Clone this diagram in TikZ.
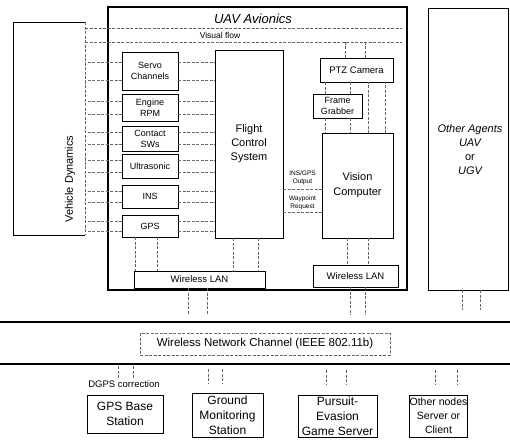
\documentclass[tikz,border=0pt]{standalone}
\usepackage{fontspec}
\setmainfont{Liberation Sans}
\usetikzlibrary{calc}
\tikzset{
  fs/.style 2 args={font=\fontsize{#1}{#2}\selectfont},
  box/.style={draw=black, line width=0.9pt, align=center, inner sep=0pt, outer sep=0pt},
  bigbox/.style={draw=black, line width=1.2pt, inner sep=0pt, outer sep=0pt},
  boxline/.style={draw=black, line width=0.9pt},
  conn/.style={draw=black!60, line width=0.6pt, dash pattern=on 3pt off 1.5pt},
  sepline/.style={draw=black, line width=1.3pt},
  sensor/.style={box, minimum width=56pt, fs={9}{11}},
  lbl/.style={inner sep=0pt, outer sep=0pt, align=center},
}
\begin{document}
\begin{tikzpicture}[x=1pt,y=-1pt]
\useasboundingbox (0,0) rectangle (510,442);
\fill[white] (0,0) rectangle (510,442);

% UAV avionics frame
\node[bigbox, minimum width=299pt, minimum height=283pt] (avio) at (257.5,148.5) {};
\node[lbl, font=\fontsize{13}{15}\selectfont\itshape] (aviolbl) at (253,19) {UAV Avionics};

% Vehicle dynamics
\node[inner sep=0pt, outer sep=0pt, minimum width=72pt, minimum height=213pt] (vd) at (49,128.5) {};
\draw[boxline] (vd.north east) -- (vd.north west) -- (vd.south west) -- (vd.south east);
\draw[conn] (vd.north east) -- (vd.south east);
\node[lbl, rotate=90, fs={11}{13}] (vdlbl) at (70,179) {Vehicle Dynamics};

% Other agents
\node[box, minimum width=80pt, minimum height=282pt] (oa) at (468,149) {};
\node[lbl, font=\fontsize{11}{14}\selectfont\itshape] (oalbl) at (470,150) {Other Agents\\UAV\\\upshape or\\UGV};

% Visual flow
\draw[conn] ($(vd.north east)+(0,6)$) -- ++(317,0);
\draw[conn] ($(vd.north east)+(0,20)$) -- ++(317,0);
\node[lbl, fs={8.5}{10}] (vflbl) at (220,35) {Visual flow};

% Sensors
\node[sensor, minimum height=38pt] (servo) at (150,71) {Servo\\Channels};
\node[sensor, minimum height=27pt] (engine) at (150,107.5) {Engine\\RPM};
\node[sensor, minimum height=25pt] (contact) at (150,138.5) {Contact\\SWs};
\node[sensor, minimum height=24pt] (ultra) at (150,166) {Ultrasonic};
\node[sensor, minimum height=23pt] (ins) at (150,196.5) {INS};
\node[sensor, minimum height=22pt] (gps) at (150,226) {GPS};

% Flight control system
\node[box, minimum width=68pt, minimum height=188pt, fs={11}{14}] (fcs) at (249,144) {Flight\\Control\\System};

% Vision chain
\node[box, minimum width=73pt, minimum height=24pt, fs={9.5}{11}] (ptz) at (356.5,70) {PTZ Camera};
\node[box, minimum width=49pt, minimum height=24pt, fs={9}{11}] (fg) at (337.5,106) {Frame\\Grabber};
\node[box, minimum width=71pt, minimum height=105pt, fs={11}{15}] (vision) at (357.5,185.5) {Vision\\Computer};

% Wireless LANs
\node[box, minimum width=131pt, minimum height=17pt, fs={9.5}{11}] (wl1) at (199.5,279.5) {Wireless LAN};
\node[box, minimum width=85pt, minimum height=22pt, fs={9.5}{11}] (wl2) at (355.5,276) {Wireless LAN};

% sensor links
\foreach \s/\d in {servo/9, engine/6.5, contact/6, ultra/6, ins/5.5, gps/5}{
  \draw[conn] ($(\s.west)+(0,-\d)$) -- ++(-37,0);
  \draw[conn] ($(\s.west)+(0,\d)$) -- ++(-37,0);
  \draw[conn] ($(\s.east)+(0,-\d)$) -- ++(37,0);
  \draw[conn] ($(\s.east)+(0,\d)$) -- ++(37,0);
}

% camera links
\draw[conn] ($(ptz.north)+(-11.5,0)$) -- ++(0,-16);
\draw[conn] ($(ptz.north)+(8.5,0)$) -- ++(0,-16);
\draw[conn] ($(fg.north)+(-12.5,0)$) -- ++(0,-12);
\draw[conn] ($(fg.north)+(12.5,0)$) -- ++(0,-12);
\draw[conn] ($(fg.south)+(-12.5,0)$) -- ++(0,15);
\draw[conn] ($(fg.south)+(12.5,0)$) -- ++(0,15);
\draw[conn] ($(vision.north)+(10.5,0)$) -- ++(0,-51);
\draw[conn] ($(vision.north)+(27.5,0)$) -- ++(0,-51);

% FCS <-> Vision
\draw[conn] ($(fcs.east)+(0,45)$) -- ++(39,0);
\draw[conn] ($(fcs.east)+(0,68)$) -- ++(39,0);
\node[lbl, fs={6.5}{8}] (insout) at (302.5,177.5) {INS/GPS\\Output};
\node[lbl, fs={6.5}{8}] (wayreq) at (302.5,202.5) {Waypoint\\Request};

% links to wireless LANs
\draw[conn] ($(gps.south)+(-15,0)$) -- ++(0,34);
\draw[conn] ($(gps.south)+(7,0)$) -- ++(0,34);
\draw[conn] ($(fcs.south)+(-16,0)$) -- ++(0,33);
\draw[conn] ($(fcs.south)+(9,0)$) -- ++(0,33);
\draw[conn] ($(vision.south)+(-10.5,0)$) -- ++(0,27);
\draw[conn] ($(vision.south)+(10.5,0)$) -- ++(0,27);

% links to the network
\draw[conn] ($(wl1.south)+(-11.5,0)$) -- ++(0,27);
\draw[conn] ($(wl1.south)+(7.5,0)$) -- ++(0,27);
\draw[conn] ($(wl2.south)+(-5.5,0)$) -- ++(0,28);
\draw[conn] ($(wl2.south)+(9.5,0)$) -- ++(0,28);
\draw[conn] ($(oa.south)+(-6,0)$) -- ++(0,20);
\draw[conn] ($(oa.south)+(12,0)$) -- ++(0,20);

% network channel
\draw[sepline] (0,322) -- (510,322);
\draw[sepline] (0,364) -- (510,364);
\node[draw=black!60, line width=0.6pt, dash pattern=on 3pt off 1.5pt, inner sep=0pt, outer sep=0pt,
      minimum width=250pt, minimum height=22pt, fs={11.5}{13}] (chan) at (265,344) {Wireless Network Channel (IEEE 802.11b)};

% ground nodes
\node[box, minimum width=76pt, minimum height=38pt, fs={12}{15}] (gpsb) at (125,414) {GPS Base\\Station};
\node[box, minimum width=71pt, minimum height=44pt, fs={12}{15}] (ground) at (227.5,415) {Ground\\Monitoring\\Station};
\node[box, minimum width=79pt, minimum height=42pt, fs={12}{15}] (pursuit) at (337.5,416) {Pursuit-\\Evasion\\Game Server};
\node[box, minimum width=57pt, minimum height=42pt, fs={10.5}{14}] (onodes) at (438.5,416) {Other nodes\\Server or\\Client};

\draw[conn] ($(gpsb.north)+(-7,-29)$) -- ++(0,14);
\draw[conn] ($(gpsb.north)+(8,-29)$) -- ++(0,19);
\node[lbl, fill=white, inner sep=0.5pt, fs={9.5}{11}] (dgps) at (124,384) {DGPS correction};
\draw[conn] ($(ground.north)+(-19.5,-24)$) -- ++(0,15);
\draw[conn] ($(ground.north)+(-5.5,-24)$) -- ++(0,15);
\draw[conn] ($(pursuit.north)+(-11.5,-25)$) -- ++(0,15);
\draw[conn] ($(pursuit.north)+(8.5,-25)$) -- ++(0,15);
\draw[conn] ($(onodes.north)+(-3.5,-25)$) -- ++(0,15);
\draw[conn] ($(onodes.north)+(18.5,-25)$) -- ++(0,15);
\end{tikzpicture}
\end{document}
